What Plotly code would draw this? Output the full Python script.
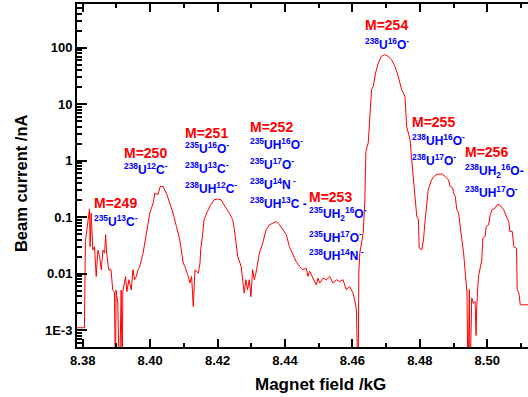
import plotly.graph_objects as go

# ---- data ----
field_kG = [
    8.3783, 8.3805, 8.3808, 8.3815, 8.3820, 8.3822, 8.3825, 8.3830, 8.3835, 8.3840,
    8.3845, 8.3850, 8.3855, 8.3860, 8.3865, 8.3868, 8.3871, 8.3877, 8.3884, 8.3889,
    8.3894, 8.3897, 8.3899, 8.3904, 8.3909, 8.3914, 8.3917, 8.3919, 8.3927, 8.3931,
    8.3937, 8.3944, 8.3949, 8.3954, 8.3959, 8.3964, 8.3969, 8.3979, 8.3989, 8.3999,
    8.4009, 8.4014, 8.4023, 8.4030, 8.4038, 8.4048, 8.4058, 8.4068, 8.4078, 8.4088,
    8.4098, 8.4103, 8.4113, 8.4118, 8.4123, 8.4128, 8.4133, 8.4143, 8.4148,
    8.4150, 8.4155, 8.4160, 8.4170, 8.4180, 8.4190, 8.4200, 8.4210, 8.4217, 8.4225,
    8.4235, 8.4245, 8.4250, 8.4260, 8.4270, 8.4274, 8.4279, 8.4284, 8.4289, 8.4294,
    8.4299, 8.4304, 8.4309, 8.4314, 8.4319, 8.4324, 8.4334, 8.4344, 8.4354, 8.4364,
    8.4374, 8.4384, 8.4394, 8.4404, 8.4413, 8.4423, 8.4433, 8.4443, 8.4453, 8.4463,
    8.4468, 8.4473, 8.4483, 8.4493, 8.4498, 8.4503, 8.4513, 8.4523, 8.4533, 8.4542,
    8.4553, 8.4562, 8.4572, 8.4582, 8.4592, 8.4597, 8.4602, 8.4607, 8.4612, 8.4617,
    8.4619, 8.4622, 8.4632, 8.4637, 8.4640, 8.4647, 8.4652, 8.4657, 8.4662, 8.4669,
    8.4677, 8.4686, 8.4696, 8.4706, 8.4716, 8.4726, 8.4736, 8.4746, 8.4756, 8.4761,
    8.4766, 8.4771, 8.4776, 8.4781, 8.4786, 8.4791, 8.4796, 8.4798, 8.4806, 8.4811,
    8.4816, 8.4821, 8.4825, 8.4835, 8.4840, 8.4845, 8.4855,
    8.4865, 8.4875, 8.4885, 8.4890, 8.4898, 8.4900, 8.4905, 8.4910, 8.4915, 8.4920,
    8.4925, 8.4930, 8.4935, 8.4940, 8.4943, 8.4947, 8.4949, 8.4952, 8.4954, 8.4959,
    8.4964, 8.4967, 8.4969, 8.4974, 8.4979, 8.4984, 8.4987, 8.4994, 8.4997, 8.5004,
    8.5009, 8.5014, 8.5024, 8.5031, 8.5039, 8.5049, 8.5059, 8.5064, 8.5067, 8.5074,
    8.5079, 8.5087, 8.5089, 8.5094, 8.5098, 8.5125,
]
beam_nA = [
    0.0011, 0.0011, 0.037, 0.084, 0.14, 0.030, 0.118, 0.026, 0.030, 0.0089,
    0.026, 0.020, 0.0117, 0.026, 0.023, 0.049, 0.023, 0.0117, 0.0117, 0.0051,
    0.0048, 0.0001, 0.0051, 0.0030, 0.0001, 0.0051, 0.0001, 0.0048, 0.0089, 0.0048,
    0.0078, 0.0051, 0.0117, 0.0078, 0.0089, 0.0117, 0.0134, 0.023, 0.052, 0.118,
    0.178, 0.267, 0.25, 0.35, 0.35, 0.267, 0.178, 0.118, 0.068, 0.040,
    0.0154, 0.0134, 0.0089, 0.0068, 0.0089, 0.0026, 0.0117, 0.0102, 0.0154,
    0.0264, 0.0455, 0.090, 0.126, 0.166, 0.204, 0.209, 0.204, 0.178, 0.145,
    0.118, 0.090, 0.060, 0.0201, 0.0134, 0.0089, 0.0045, 0.0078, 0.0052, 0.0078,
    0.0039, 0.0117, 0.0078, 0.0102, 0.0153, 0.0231, 0.0347, 0.060, 0.073, 0.0785,
    0.084, 0.073, 0.060, 0.0488, 0.030, 0.0215, 0.0164, 0.0134, 0.0117, 0.0125,
    0.0089, 0.011, 0.0083, 0.0063, 0.0083, 0.0068, 0.0083, 0.0078, 0.0089, 0.0068,
    0.0078, 0.0072, 0.0078, 0.0052, 0.0059, 0.0052, 0.0045, 0.0034, 0.0023, 0.0001,
    0.0102, 0.023, 0.052, 0.204, 1.46, 2.06, 7.0, 18.2, 20.9, 35.9,
    53.9, 70.4, 75.6, 70.4, 61.7, 47, 31, 18.2, 13.8, 4.06,
    3.09, 2.36, 1.04, 0.46, 0.267, 0.103, 0.090, 0.0283, 0.0264, 0.040,
    0.090, 0.204, 0.306, 0.46, 0.50, 0.55, 0.58,
    0.58, 0.527, 0.46, 0.35, 0.328, 0.267, 0.233, 0.135, 0.118, 0.068,
    0.040, 0.023, 0.0102, 0.0045, 0.0001, 0.0052, 0.0001, 0.0030, 0.0037, 0.0030,
    0.0032, 0.0008, 0.0026, 0.0089, 0.0134, 0.0176, 0.0425, 0.0455, 0.068, 0.073,
    0.110, 0.135, 0.145, 0.170, 0.160, 0.135, 0.096, 0.084, 0.056, 0.056,
    0.030, 0.028, 0.0052, 0.0045, 0.0028, 0.0028,
]

x_tick_vals = [8.38, 8.40, 8.42, 8.44, 8.46, 8.48, 8.50]
x_tick_text = ["8.38", "8.40", "8.42", "8.44", "8.46", "8.48", "8.50"]
x_minor_vals = [8.39, 8.41, 8.43, 8.45, 8.47, 8.49, 8.51]
y_tick_vals = [0.001, 0.01, 0.1, 1, 10, 100]
y_tick_text = ["1E-3", "0.01", "0.1", "1", "10", "100"]

# mass labels and species labels
mass_labels = ["M=249", "M=250", "M=251", "M=252", "M=253", "M=254", "M=255", "M=256"]
species_labels = [
    ["<sup>235</sup>U<sup>13</sup>C<sup>-</sup>"],
    ["<sup>238</sup>U<sup>12</sup>C<sup>-</sup>"],
    ["<sup>235</sup>U<sup>16</sup>O<sup>-</sup>",
     "<sup>238</sup>U<sup>13</sup>C<sup>-</sup>",
     "<sup>238</sup>UH<sup>12</sup>C<sup>-</sup>"],
    ["<sup>235</sup>UH<sup>16</sup>O<sup>-</sup>",
     "<sup>235</sup>U<sup>17</sup>O<sup>-</sup>",
     "<sup>238</sup>U<sup>14</sup>N<sup> -</sup>",
     "<sup>238</sup>UH<sup>13</sup>C -"],
    ["<sup>235</sup>UH<sub>2</sub><sup>16</sup>O<sup>-</sup>",
     "<sup>235</sup>UH<sup>17</sup>O<sup>-</sup>",
     "<sup>238</sup>UH<sup>14</sup>N<sup> -</sup>"],
    ["<sup>238</sup>U<sup>16</sup>O<sup>-</sup>"],
    ["<sup>238</sup>UH<sup>16</sup>O<sup>-</sup>",
     "<sup>238</sup>U<sup>17</sup>O<sup>-</sup>"],
    ["<sup>238</sup>UH<sub>2</sub><sup>16</sup>O-",
     "<sup>238</sup>UH<sup>17</sup>O<sup>-</sup>"],
]

# ---- label placement (x in kG, y as log10 of nA) ----
label_x = [8.3828, 8.3917, 8.4098, 8.4290, 8.4466, 8.4632, 8.4771, 8.4928]
mass_y = [-0.749, 0.136, 0.499, 0.597, -0.643, 2.395, 0.677, 0.154]
species_y = [
    [-1.068],
    [-0.147],
    [0.216, -0.138, -0.492],
    [0.296, -0.058, -0.413, -0.749],
    [-0.944, -1.343, -1.670],
    [2.067],
    [0.358, 0.012],
    [-0.182, -0.554],
]

FONT = "Liberation Sans, Arial, sans-serif"
RED = "#ff0000"
BLUE = "#0000ff"

fig = go.Figure()
fig.add_trace(go.Scatter(
    x=field_kG, y=beam_nA, mode="lines",
    line=dict(color=RED, width=1), showlegend=False,
))

annotations = []
for i, m in enumerate(mass_labels):
    annotations.append(dict(
        x=label_x[i], y=mass_y[i], xref="x", yref="y", text="<b>" + m + "</b>",
        showarrow=False, xanchor="left", yanchor="middle",
        font=dict(family=FONT, size=14, color=RED),
    ))
    for txt, yy in zip(species_labels[i], species_y[i]):
        annotations.append(dict(
            x=label_x[i], y=yy, xref="x", yref="y", text="<b>" + txt + "</b>",
            showarrow=False, xanchor="left", yanchor="middle",
            font=dict(family=FONT, size=12, color=BLUE),
        ))

annotations.append(dict(
    x=0.539, y=-0.108, xref="paper", yref="paper", text="<b>Magnet field /kG</b>",
    showarrow=False, xanchor="center", yanchor="middle",
    font=dict(family=FONT, size=17, color="black"),
))
annotations.append(dict(
    x=-0.124, y=0.478, xref="paper", yref="paper", text="<b>Beam current /nA</b>",
    showarrow=False, xanchor="center", yanchor="middle", textangle=-90,
    font=dict(family=FONT, size=16.5, color="black"),
))

y_minor = []
for e in range(-4, 3):
    for k in range(2, 10):
        y_minor.append(k * 10 ** e)

fig.update_layout(
    width=528, height=397,
    margin=dict(l=77, r=0, t=4, b=50),
    paper_bgcolor="white", plot_bgcolor="white",
    annotations=annotations,
    xaxis=dict(
        range=[8.3783, 8.5121],
        tickmode="array", tickvals=x_tick_vals, ticktext=x_tick_text,
        ticks="inside", ticklen=8, tickwidth=2, tickcolor="black",
        showline=True, linewidth=2, linecolor="black", mirror="ticks",
        showgrid=False, zeroline=False,
        tickfont=dict(family=FONT, size=13, color="black", weight="bold"),
        minor=dict(tickmode="array", tickvals=x_minor_vals, ticks="inside",
                   ticklen=4, tickwidth=2, tickcolor="black", showgrid=False),
    ),
    yaxis=dict(
        type="log", range=[-3.30, 2.775],
        tickmode="array", tickvals=y_tick_vals, ticktext=y_tick_text,
        ticks="inside", ticklen=10, tickwidth=2, tickcolor="black",
        showline=True, linewidth=2, linecolor="black",
        showgrid=False, zeroline=False,
        tickfont=dict(family=FONT, size=13, color="black", weight="bold"),
        minor=dict(tickmode="array", tickvals=y_minor, ticks="inside",
                   ticklen=5, tickwidth=1.5, tickcolor="black", showgrid=False),
    ),
)

fig.write_html("out.html")
